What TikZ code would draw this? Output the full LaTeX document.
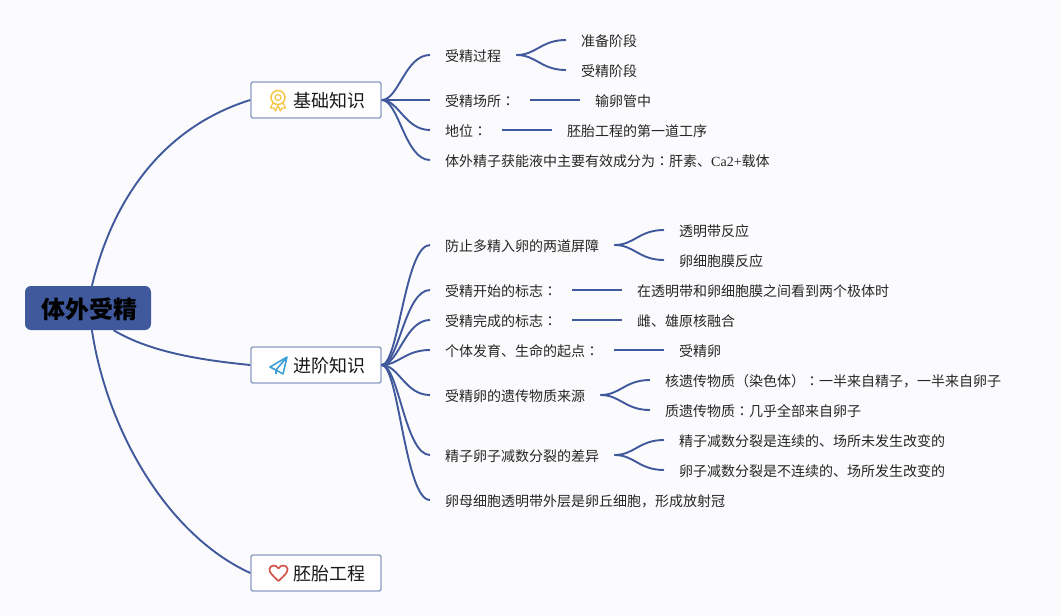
\documentclass[tikz,border=0pt]{standalone}
\usepackage{fontspec}
\setmainfont{Noto Sans CJK SC}
\newfontfamily\latinfont{Liberation Serif}
\newfontfamily\tcfont{Noto Sans CJK TC}
\newcommand{\cn}{{\tcfont ：}}
\definecolor{linkblue}{HTML}{40599C}
\definecolor{boxedge}{HTML}{8D9BC4}
\definecolor{pagebg}{HTML}{FBFBFD}
\definecolor{medal}{HTML}{F6C445}
\definecolor{plane}{HTML}{3FA0D6}
\definecolor{heart}{HTML}{D2554C}
\tikzset{
  rootbox/.style={fill=linkblue,rounded corners=6pt,minimum width=126pt,minimum height=44pt,inner sep=0pt,text height=22pt,text depth=2pt,text=black,font=\fontsize{24}{28}\selectfont\bfseries},
  mainbox/.style={draw=boxedge,fill=white,line width=1.4pt,rounded corners=2pt,minimum width=130pt,minimum height=36pt,inner sep=0pt,text height=16pt,text depth=1pt,text=black!90,font=\fontsize{18}{22}\selectfont},
  leaf/.style={anchor=west,inner xsep=15pt,inner ysep=0pt,text height=14pt,text depth=1pt,text=black!85,font=\fontsize{14}{16}\selectfont},
  link/.style={draw=linkblue,line width=1.9pt},
  branch/.style={to path={.. controls +(17,0) and +(-25,0) .. (\tikztotarget)}},
  fork/.style={to path={.. controls +(20,0) and +(-25,0) .. (\tikztotarget)}}
}
\begin{document}
\begin{tikzpicture}[x=1pt,y=-1pt]
  \fill[pagebg] (0,0) rectangle (1061,616);
  \useasboundingbox (0,0) rectangle (1061,616);

  \node[rootbox] (root) at (88,308) {\hspace*{2pt}体外受精};
  \node[mainbox] (basic) at (316,100) {\hspace*{26pt}基础知识};
  \node[mainbox] (advanced) at (316,365) {\hspace*{26pt}进阶知识};
  \node[mainbox] (embryo) at (316,573) {\hspace*{26pt}胚胎工程};

  \draw[link] (root.80) .. controls (115,190) and (170,125) .. (basic.west);
  \draw[link] (root.-41) .. controls (150,352) and (200,360) .. (advanced.west);
  \draw[link] (root.280) .. controls (107,430) and (167,535) .. (embryo.west);

  % icons
  \draw[medal,line width=1.5pt] (278,97.5) circle (7);
  \draw[medal,line width=1.2pt] (278,97.5) circle (3);
  \draw[medal,line width=1.3pt,line join=round] (273,103) -- (270.5,108) -- (274,108) -- (275.5,111) -- (278,105.5);
  \draw[medal,line width=1.3pt,line join=round] (283,103) -- (285.5,108) -- (282,108) -- (280.5,111) -- (278,105.5);
  \draw[plane,line width=1.6pt,line join=round] (287,357) -- (270,367) -- (276,370) -- (287,357) -- (283,374) -- (276,370) -- (276,374);
  \draw[heart,line width=1.7pt,line join=round] (278.5,581) .. controls (272,575) and (269,572) .. (269.5,569) .. controls (270,565) and (276,564) .. (278.5,568.5) .. controls (281,564) and (287,565) .. (287.5,569) .. controls (288,572) and (285,575) .. (278.5,581) -- cycle;

  % basic
  \node[leaf] (process) at (430,55) {受精过程};
  \node[leaf] (prep) at (566,40) {准备阶段};
  \node[leaf] (stage) at (566,70) {受精阶段};
  \node[leaf] (site) at (430,100) {受精场所\cn};
  \node[leaf] (tube) at (580,100) {输卵管中};
  \node[leaf] (status) at (430,130) {地位\cn};
  \node[leaf] (first) at (552,130) {胚胎工程的第一道工序};
  \node[leaf] (liquid) at (430,160) {体外精子获能液中主要有效成分为\cn 肝素、{\latinfont Ca2+}载体};

  \draw[link] (basic.east) to[branch] (process.west);
  \draw[link] (basic.east) -- (site.west);
  \draw[link] (basic.east) to[branch] (status.west);
  \draw[link] (basic.east) to[branch] (liquid.west);
  \draw[link] (process.east) to[fork] (prep.west);
  \draw[link] (process.east) to[fork] (stage.west);
  \draw[link] (site.east) -- (tube.west);
  \draw[link] (status.east) -- (first.west);

  % advanced
  \node[leaf] (barrier) at (430,245) {防止多精入卵的两道屏障};
  \node[leaf] (zona) at (664,230) {透明带反应};
  \node[leaf] (membrane) at (664,260) {卵细胞膜反应};
  \node[leaf] (start) at (430,290) {受精开始的标志\cn};
  \node[leaf] (polar) at (622,290) {在透明带和卵细胞膜之间看到两个极体时};
  \node[leaf] (finish) at (430,320) {受精完成的标志\cn};
  \node[leaf] (fusion) at (622,320) {雌、雄原核融合};
  \node[leaf] (origin) at (430,350) {个体发育、生命的起点\cn};
  \node[leaf] (zygote) at (664,350) {受精卵};
  \node[leaf] (source) at (430,395) {受精卵的遗传物质来源};
  \node[leaf] (nuclear) at (650,380) {核遗传物质（染色体）\cn 一半来自精子，一半来自卵子};
  \node[leaf] (cyto) at (650,410) {质遗传物质\cn 几乎全部来自卵子};
  \node[leaf] (meiosis) at (430,455) {精子卵子减数分裂的差异};
  \node[leaf] (sperm) at (664,440) {精子减数分裂是连续的、场所未发生改变的};
  \node[leaf] (egg) at (664,470) {卵子减数分裂是不连续的、场所发生改变的};
  \node[leaf] (corona) at (430,500) {卵母细胞透明带外层是卵丘细胞，形成放射冠};

  \draw[link] (advanced.east) to[branch] (barrier.west);
  \draw[link] (advanced.east) to[branch] (start.west);
  \draw[link] (advanced.east) to[branch] (finish.west);
  \draw[link] (advanced.east) to[branch] (origin.west);
  \draw[link] (advanced.east) to[branch] (source.west);
  \draw[link] (advanced.east) to[branch] (meiosis.west);
  \draw[link] (advanced.east) to[branch] (corona.west);
  \draw[link] (barrier.east) to[fork] (zona.west);
  \draw[link] (barrier.east) to[fork] (membrane.west);
  \draw[link] (start.east) -- (polar.west);
  \draw[link] (finish.east) -- (fusion.west);
  \draw[link] (origin.east) -- (zygote.west);
  \draw[link] (source.east) to[fork] (nuclear.west);
  \draw[link] (source.east) to[fork] (cyto.west);
  \draw[link] (meiosis.east) to[fork] (sperm.west);
  \draw[link] (meiosis.east) to[fork] (egg.west);
\end{tikzpicture}
\end{document}
